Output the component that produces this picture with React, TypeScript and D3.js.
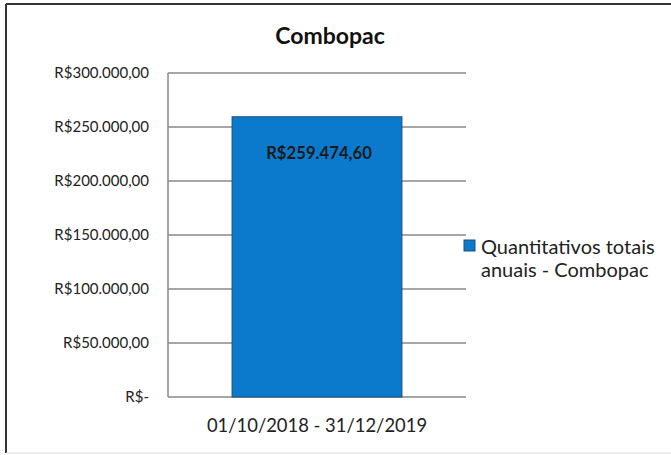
import React from "react";
import * as d3 from "d3";

const categories = ["01/10/2018 - 31/12/2019"];
const values = [259474.6];
const yTicks = [0, 50000, 100000, 150000, 200000, 250000, 300000];
const yTickLabels = ["R$-", "R$50.000,00", "R$100.000,00", "R$150.000,00", "R$200.000,00", "R$250.000,00", "R$300.000,00"];
const valueLabels = ["R$259.474,60"];
const seriesName = ["Quantitativos totais", "anuais - Combopac"];
const title = "Combopac";

const W = 671, H = 455;
const FONT = "Lato, 'Open Sans', sans-serif";

export default function App() {
  const left = 168, right = 466, top = 73, bottom = 397;
  const y = d3.scaleLinear().domain([0, 300000]).range([bottom, top]);
  const x = d3.scaleBand().domain(categories).range([left, right]).paddingInner(0.43).paddingOuter(0.215);
  return (
    <svg width={W} height={H} style={{ position: "absolute", left: 0, top: 0, background: "#fff" }}>
      <rect x={0} y={0} width={W} height={H} fill="#fff" />
      <line x1={6} x2={W} y1={4} y2={4} stroke="#333" strokeWidth={2} />
      <line x1={6} x2={6} y1={4} y2={453} stroke="#333" strokeWidth={2} />
      <line x1={6} x2={W} y1={453} y2={453} stroke="#ddd" strokeWidth={1} />
      <text x={330} y={44} textAnchor="middle" fontFamily={FONT} fontWeight="bold" fontSize={23} fill="#111">{title}</text>
      {yTicks.map((t, i) => (
        <g key={t}>
          <line x1={left} x2={right} y1={y(t)} y2={y(t)} stroke="#888" strokeWidth={1.5} />
          <text x={left - 19} y={y(t) + 5} textAnchor="end" fontFamily={FONT} fontSize={15} fill="#222">{yTickLabels[i]}</text>
        </g>
      ))}
      <line x1={left} x2={left} y1={top} y2={bottom} stroke="#888" strokeWidth={1.5} />
      {categories.map((c, i) => (
        <g key={c}>
          <rect x={x(c)} y={y(values[i])} width={x.bandwidth()} height={bottom - y(values[i])} fill="#0b7acd" stroke="#1a4e7a" strokeWidth={1} />
          <text x={(x(c) as number) + x.bandwidth() / 2 + 2} y={y(values[i]) + 42} textAnchor="middle" fontFamily={FONT} fontWeight="bold" fontSize={16.7} fill="#1a1a1a">{valueLabels[i]}</text>
          <text x={(x(c) as number) + x.bandwidth() / 2} y={432} textAnchor="middle" fontFamily={FONT} fontSize={18.4} fill="#222">{c}</text>
        </g>
      ))}
      <rect x={464} y={240} width={11} height={11} fill="#0b7acd" stroke="#1a4e7a" strokeWidth={1} />
      <text x={481} y={254} fontFamily={FONT} fontSize={20} fill="#222">{seriesName[0]}</text>
      <text x={481} y={277} fontFamily={FONT} fontSize={20} fill="#222">{seriesName[1]}</text>
    </svg>
  );
}
